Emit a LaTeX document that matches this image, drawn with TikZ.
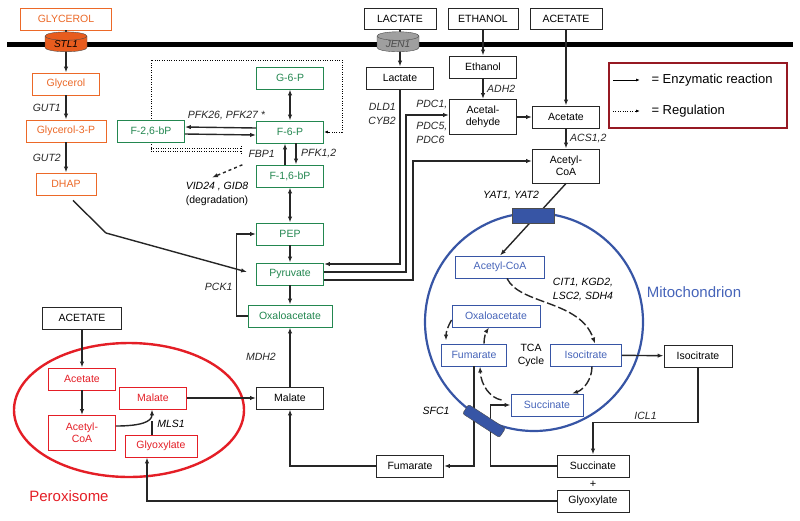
\documentclass[tikz,border=0pt]{standalone}
\usepackage{fontspec}
\setmainfont{Liberation Sans}
\usetikzlibrary{arrows.meta,shapes.geometric,backgrounds}

\definecolor{orng}{RGB}{236,105,40}
\definecolor{orngd}{RGB}{232,92,30}
\definecolor{grn}{RGB}{35,135,80}
\definecolor{mblue}{RGB}{55,85,165}
\definecolor{mtext}{RGB}{70,100,185}
\definecolor{pred}{RGB}{228,30,38}
\definecolor{legred}{RGB}{150,25,35}

\begin{document}
\begin{tikzpicture}[x=1pt,y=-1pt,
	box/.style={draw=black!85,fill=white,line width=0.9pt,minimum width=67,minimum height=22,inner sep=2pt,align=center,font=\fontsize{10.5}{12}\selectfont},
	obox/.style={box,draw=orng,text=orng},
	gbox/.style={box,draw=grn,text=grn},
	mbox/.style={box,draw=mblue,text=mtext},
	pbox/.style={box,draw=pred,text=pred},
	enz/.style={font=\fontsize{10.5}{14}\selectfont\itshape,inner sep=1.5pt},
	rxn/.style={-{Latex[length=6pt,width=4.4pt]},line width=1.4pt,black!85},
	biarr/.style={{Latex[length=6pt,width=4.4pt]}-{Latex[length=6pt,width=4.4pt]},line width=1.4pt,black!85},
	reg/.style={dash pattern=on 1pt off 1.4pt,line width=1pt},
	tca/.style={rxn,dash pattern=on 9pt off 3pt},
	chan/.style={cylinder,shape border rotate=90,aspect=0.35,draw=black!70,minimum width=42,minimum height=15,inner sep=0pt,font=\fontsize{10}{11}\selectfont\itshape}
]
\useasboundingbox (0,0) rectangle (800,520);

% outside the cell
\node[obox,minimum width=91] (GLYout) at (66,19) {GLYCEROL};
\node[box,minimum width=72,minimum height=21] (LACout) at (400,19) {LACTATE};
\node[box,minimum width=70,minimum height=21] (ETHout) at (483,19) {ETHANOL};
\node[box,minimum width=72,minimum height=21] (ACEout) at (566,19) {ACETATE};

% glycerol branch
\node[obox] (glyc) at (66,84) {Glycerol};
\node[obox,minimum width=80] (g3p) at (66,131) {Glycerol-3-P};
\node[obox,minimum width=60] (dhap) at (66,184) {DHAP};

% gluconeogenesis
\node[gbox] (g6p) at (290,78) {G-6-P};
\node[gbox] (f6p) at (290,132) {F-6-P};
\node[gbox] (f16bp) at (290,176) {F-1,6-bP};
\node[gbox] (pep) at (290,234) {PEP};
\node[gbox] (pyr) at (290,274) {Pyruvate};
\node[gbox,minimum width=84] (oaa) at (290,316) {Oxaloacetate};
\node[gbox] (f26bp) at (151,131) {F-2,6-bP};

% cytosol
\node[box] (lac) at (400,78) {Lactate};
\node[box] (eth) at (483,67) {Ethanol};
\node[box,minimum height=35] (acald) at (483,117) {Acetal-\\dehyde};
\node[box] (ace) at (566,117) {Acetate};
\node[box,minimum height=34] (acoa) at (566,166) {Acetyl-\\CoA};
\node[box] (mal) at (290,398) {Malate};
\node[box] (fum) at (410,466) {Fumarate};
\node[box,minimum width=68] (icit) at (698,356) {Isocitrate};
\node[box,minimum width=72] (succ) at (593,466) {Succinate};
\node[box,minimum width=72] (glox) at (593,501) {Glyoxylate};
\node[font=\fontsize{11}{12}\selectfont] (plus) at (593,484) {+};

% mitochondrion
\node[mbox,minimum width=89] (acoaM) at (500,267) {Acetyl-CoA};
\node[mbox,minimum width=88] (oaaM) at (496,316) {Oxaloacetate};
\node[mbox,minimum width=65] (fumM) at (474,355) {Fumarate};
\node[mbox,minimum width=71] (icitM) at (586,355) {Isocitrate};
\node[mbox,minimum width=72] (succM) at (547,405) {Succinate};
\node[align=center,font=\fontsize{10.5}{13}\selectfont] (tca) at (531,355) {TCA\\Cycle};
\node[enz,align=left] (citlbl) at (583,289) {CIT1, KGD2,\\LSC2, SDH4};
\node[text=mtext,font=\fontsize{15}{17}\selectfont] (mitolbl) at (694,292) {Mitochondrion};

% peroxisome
\node[box,minimum width=79] (ACEperox) at (82,318) {ACETATE};
\node[pbox] (aceP) at (82,379) {Acetate};
\node[pbox,minimum height=35] (acoaP) at (82,433) {Acetyl-\\CoA};
\node[pbox] (malP) at (153,398) {Malate};
\node[pbox,minimum width=72] (gloxP) at (161,446) {Glyoxylate};
\node[text=pred,font=\fontsize{15}{17}\selectfont] (peroxlbl) at (69,496) {Peroxisome};

% legend
\node[draw=legred,line width=1.2pt,minimum width=178,minimum height=65] (legend) at (698,95.5) {};
\node[anchor=west,font=\fontsize{13}{15}\selectfont] (legE) at (648,80) {= Enzymatic reaction};
\node[anchor=west,font=\fontsize{13}{15}\selectfont] (legR) at (648,111) {= Regulation};
\coordinate (legEs) at (613,80);
\coordinate (legRs) at (613,111);
\draw[-{Latex[length=4pt,width=3pt]},line width=0.8pt] (legEs) -- ([xshift=-8pt]legE.west);
\draw[reg,-{Latex[length=4pt,width=3pt]},line width=0.9pt] (legRs) -- ([xshift=-8pt]legR.west);

% reactions
\draw[rxn] (GLYout) -- (glyc);
\draw[rxn] (glyc) -- node[enz,left=3pt] {GUT1} (g3p);
\draw[rxn] (g3p) -- node[enz,left=3pt] {GUT2} (dhap);
\draw[rxn] ([shift={(7,5)}]dhap.south) -- (106,233) -- ([shift={(-9,-2)}]pyr.west);
\draw[biarr] (g6p) -- (f6p);
\draw[rxn] ([yshift=4pt]f6p.west) -- node[enz,above=5pt,xshift=6pt] {PFK26, PFK27 *} ([yshift=4pt]f26bp.east);
\draw[rxn] ([yshift=-3pt]f26bp.east) -- ([yshift=-3pt]f6p.west);
\draw[rxn] ([xshift=-5pt]f16bp.north) -- node[enz,left=8pt] (fbp) {FBP1} ([xshift=-5pt]f6p.south);
\draw[rxn] ([xshift=6pt]f6p.south) -- node[enz,right=3pt] {PFK1,2} ([xshift=6pt]f16bp.north);
\draw[biarr] (f16bp) -- (pep);
\draw[rxn] (pep) -- (pyr);
\draw[rxn] (pyr) -- (oaa);
\draw[rxn] (oaa.west) -- ++(-11,0) |- node[enz,left=2pt,pos=0.18] {PCK1} (pep.west);
\draw[rxn] (mal) -- node[enz,left=12pt] {MDH2} (oaa);
\draw[rxn] (fum.west) -| (mal.south);

\node[enz,align=center] (vid) at (217,194) {VID24 , GID8\\{\upshape(degradation)}};
\draw[rxn,dashed] ([shift={(-4,5)}]fbp.south west) -- ([shift={(-5,-3)}]vid.north);

\draw[rxn] (LACout) -- (lac);
\draw[rxn] (lac.south) |- node[enz,pos=0.07,left=2pt,align=right] {DLD1\\CYB2} ([yshift=10pt]pyr.east);
\draw[rxn] ([yshift=2pt]pyr.east) -- ++(82,0) |- node[enz,above=4pt,pos=0.8] {PDC1,} node[enz,below=5pt,pos=0.8,align=left] {PDC5,\\PDC6} ([yshift=2pt]acald.west);
\draw[rxn] ([yshift=-6pt]pyr.east) -- ++(89,0) |- ([yshift=5pt]acoa.west);
\draw[rxn] (ETHout) -- (eth);
\draw[rxn] (eth) -- node[enz,right=2pt] {ADH2} (acald);
\draw[rxn] (ACEout) -- (ace);
\draw[rxn] (acald) -- (ace);
\draw[rxn] (ace) -- node[enz,right=2pt] {ACS1,2} (acoa);
\draw[rxn] (acoa.south) -- (acoaM.north);
\node[enz] (yatlbl) at (511,195) {YAT1, YAT2};

% TCA cycle
\draw[tca] ([xshift=7pt]acoaM.south) .. controls (520,305) and (580,300) .. ([xshift=9pt]icitM.north);
\draw[tca] ([xshift=6pt]icitM.south) .. controls (592,380) and (583,390) .. ([xshift=25pt]succM.north);
\draw[tca] ([shift={(-9,-5)}]succM.west) .. controls (490,398) and (481,385) .. ([xshift=6pt]fumM.south);
\draw[tca] ([xshift=10pt]fumM.north) .. controls (484,337) and (486,332) .. ([xshift=-7pt]oaaM.south);
\draw[tca] ([yshift=-4pt]oaaM.west) .. controls (448,326) and (446,332) .. ([xshift=-28pt,yshift=3pt]fumM.north);

\draw[rxn] (icitM) -- (icit);
\draw[rxn] (icit.south) -- ++(0,55) -| node[enz,above=1pt,pos=0.25] {ICL1} (succ.north);
\draw[rxn] (succ.west) -- ++(-66,0) |- (succM.west);
\draw[rxn] (fumM.south) |- (fum.east);
\draw[rxn] (glox.west) -| ([xshift=-14pt]gloxP.south);

% glyoxylate shunt
\draw[rxn] (ACEperox) -- (aceP);
\draw[rxn] (aceP) -- (acoaP);
\draw[rxn] ([yshift=7pt]acoaP.east) .. controls (140,426) and (152,422) .. ([xshift=-1pt]malP.south);
\draw[line width=1.4pt,black!85] ([xshift=-9pt]gloxP.north) -- ++(0,-14);
\node[enz] (mls) at (171,424) {MLS1};
\draw[rxn] (malP) -- (mal);

% membranes and regulation
\coordinate (fbpbar) at (241,150);
\begin{pgfonlayer}{background}
\draw[line width=5pt] (7,44) -- (793,44);
\draw[mblue,line width=2.2pt] (534,322) circle[radius=109pt];
\draw[pred,line width=2.4pt] (129,410) ellipse[x radius=115pt,y radius=67pt];
\draw[reg,-{Latex[length=4pt,width=3pt]}] (fbpbar -| f26bp) |- (342,60) |- (f6p.east);
\draw[reg] ([yshift=1.3pt]fbpbar -| f26bp) -- ([yshift=1.3pt]fbpbar);
\draw[reg] ([yshift=-1.3pt]fbpbar -| f26bp) -- ([yshift=-1.3pt]fbpbar);
\draw[reg] ([yshift=4pt]fbpbar) -- ([yshift=-5pt]fbpbar);
\end{pgfonlayer}

% transporters
\node[chan,fill=orngd] (stl) at (66,44) {STL1};
\node[chan,fill=gray!75,text=black!70] (jen) at (398,44) {JEN1};
\node[chan,fill=mblue] (yat) at (533,216) {};
\node[draw=black!70,fill=mblue,rounded corners=2pt,minimum width=44,minimum height=11,rotate=-33] (sfc) at (484,421) {};
\node[enz] (sfclbl) at (436,411) {SFC1};
\end{tikzpicture}
\end{document}
